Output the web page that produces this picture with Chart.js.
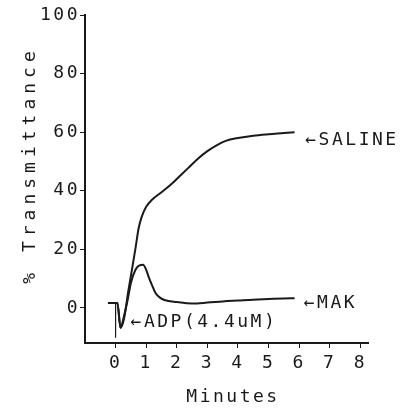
<!DOCTYPE html>
<html>
<head>
<meta charset="utf-8">
<script src="https://cdn.jsdelivr.net/npm/chart.js@4.4.0/dist/chart.umd.min.js"></script>
<style>
  html, body { margin: 0; padding: 0; background: #fff; }
</style>
</head>
<body>
<canvas id="chart" width="401" height="410"></canvas>
<script>
// minutes / % transmittance
const salineX = [-0.25, 0.06, 0.16, 0.27, 0.42, 0.55, 0.66, 0.75, 0.85, 1.0, 1.2, 1.5, 1.8, 2.1, 2.4, 2.7, 3.0, 3.3, 3.6, 4.0, 4.5, 5.0, 5.5, 5.85];
const salineY = [1.7, 1.7, -6.8, -4, 6, 14, 21, 27, 31, 34.5, 37, 39.5, 42, 45, 48, 51, 53.5, 55.5, 57, 58, 58.8, 59.3, 59.7, 60];

const makX = [-0.25, 0.06, 0.16, 0.27, 0.4, 0.5, 0.65, 0.78, 0.9, 1.0, 1.08, 1.2, 1.31, 1.45, 1.6, 2.0, 2.5, 3.0, 3.5, 4.0, 4.5, 5.0, 5.5, 5.85];
const makY = [1.7, 1.7, -6.8, -3, 3, 8.5, 13, 14.5, 14.7, 13, 10.6, 7.5, 5, 3.5, 2.7, 2, 1.5, 1.8, 2.2, 2.5, 2.8, 3.0, 3.2, 3.3];

// ADP injection marker
const adpX = [0, 0];
const adpY = [1.7, -10.2];

const xTicks = [0, 1, 2, 3, 4, 5, 6, 7, 8];
const yTicks = [0, 20, 40, 60, 80, 100];

const labelText = ['\u2190SALINE', '\u2190MAK', '\u2190ADP(4.4uM)'];
const labelX = [6.2, 6.15, 0.49];
const labelY = [57.2, 1.7, -5.1];

const FONT = "'DejaVu Sans Mono', monospace";
const INK = '#1a1a1a';

const toPoints = (xs, ys) => xs.map((x, i) => ({ x: x, y: ys[i] }));

const spacingPlugin = {
  id: 'spacing',
  beforeUpdate(chart) { chart.ctx.letterSpacing = '2.5px'; },
  beforeDraw(chart) { chart.ctx.letterSpacing = '2.5px'; }
};

const textPlugin = {
  id: 'curveLabels',
  afterDraw(chart) {
    const ctx = chart.ctx;
    const x = chart.scales.x;
    const y = chart.scales.y;
    ctx.save();
    ctx.fillStyle = INK;
    ctx.font = '18px ' + FONT;
    ctx.textBaseline = 'middle';
    ctx.textAlign = 'left';
    ctx.letterSpacing = '2.5px';
    labelText.forEach((t, i) => {
      ctx.fillText(t, x.getPixelForValue(labelX[i]), y.getPixelForValue(labelY[i]));
    });

    // axis titles
    ctx.textAlign = 'center';
    ctx.fillText('Minutes', 233, 397);
    ctx.letterSpacing = '5px';
    ctx.translate(30, 165);
    ctx.rotate(-Math.PI / 2);
    ctx.fillText('% Transmittance', 0, 0);
    ctx.restore();
  }
};

const lineStyle = {
  borderColor: INK,
  borderWidth: 2,
  pointRadius: 0,
  fill: false,
  cubicInterpolationMode: 'monotone'
};

new Chart(document.getElementById('chart').getContext('2d'), {
  type: 'line',
  data: {
    datasets: [
      { label: 'SALINE', data: toPoints(salineX, salineY), ...lineStyle },
      { label: 'MAK', data: toPoints(makX, makY), ...lineStyle },
      { label: 'ADP', data: toPoints(adpX, adpY), borderColor: INK, borderWidth: 1.2, pointRadius: 0, tension: 0 }
    ]
  },
  options: {
    responsive: false,
    animation: false,
    layout: { padding: { left: 0, right: 33, top: 15, bottom: 0 } },
    plugins: {
      legend: { display: false },
      tooltip: { enabled: false }
    },
    scales: {
      x: {
        type: 'linear',
        min: -1,
        max: 8.25,
        afterBuildTicks: (scale) => { scale.ticks = xTicks.map(v => ({ value: v })); },
        afterFit: (scale) => { scale.height = 67; },
        border: { display: true, color: INK, width: 2 },
        grid: { drawOnChartArea: false, drawTicks: true, tickLength: 5, color: INK },
        ticks: { color: INK, font: { family: FONT, size: 18 }, padding: 5, maxRotation: 0 }
      },
      y: {
        type: 'linear',
        min: -12,
        max: 100,
        afterBuildTicks: (scale) => { scale.ticks = yTicks.map(v => ({ value: v })); },
        afterFit: (scale) => { scale.width = 85; },
        border: { display: true, color: INK, width: 2 },
        grid: { drawOnChartArea: false, drawTicks: true, tickLength: 5, color: INK },
        ticks: { color: INK, font: { family: FONT, size: 18 }, padding: 0 }
      }
    }
  },
  plugins: [spacingPlugin, textPlugin]
});
</script>
</body>
</html>
